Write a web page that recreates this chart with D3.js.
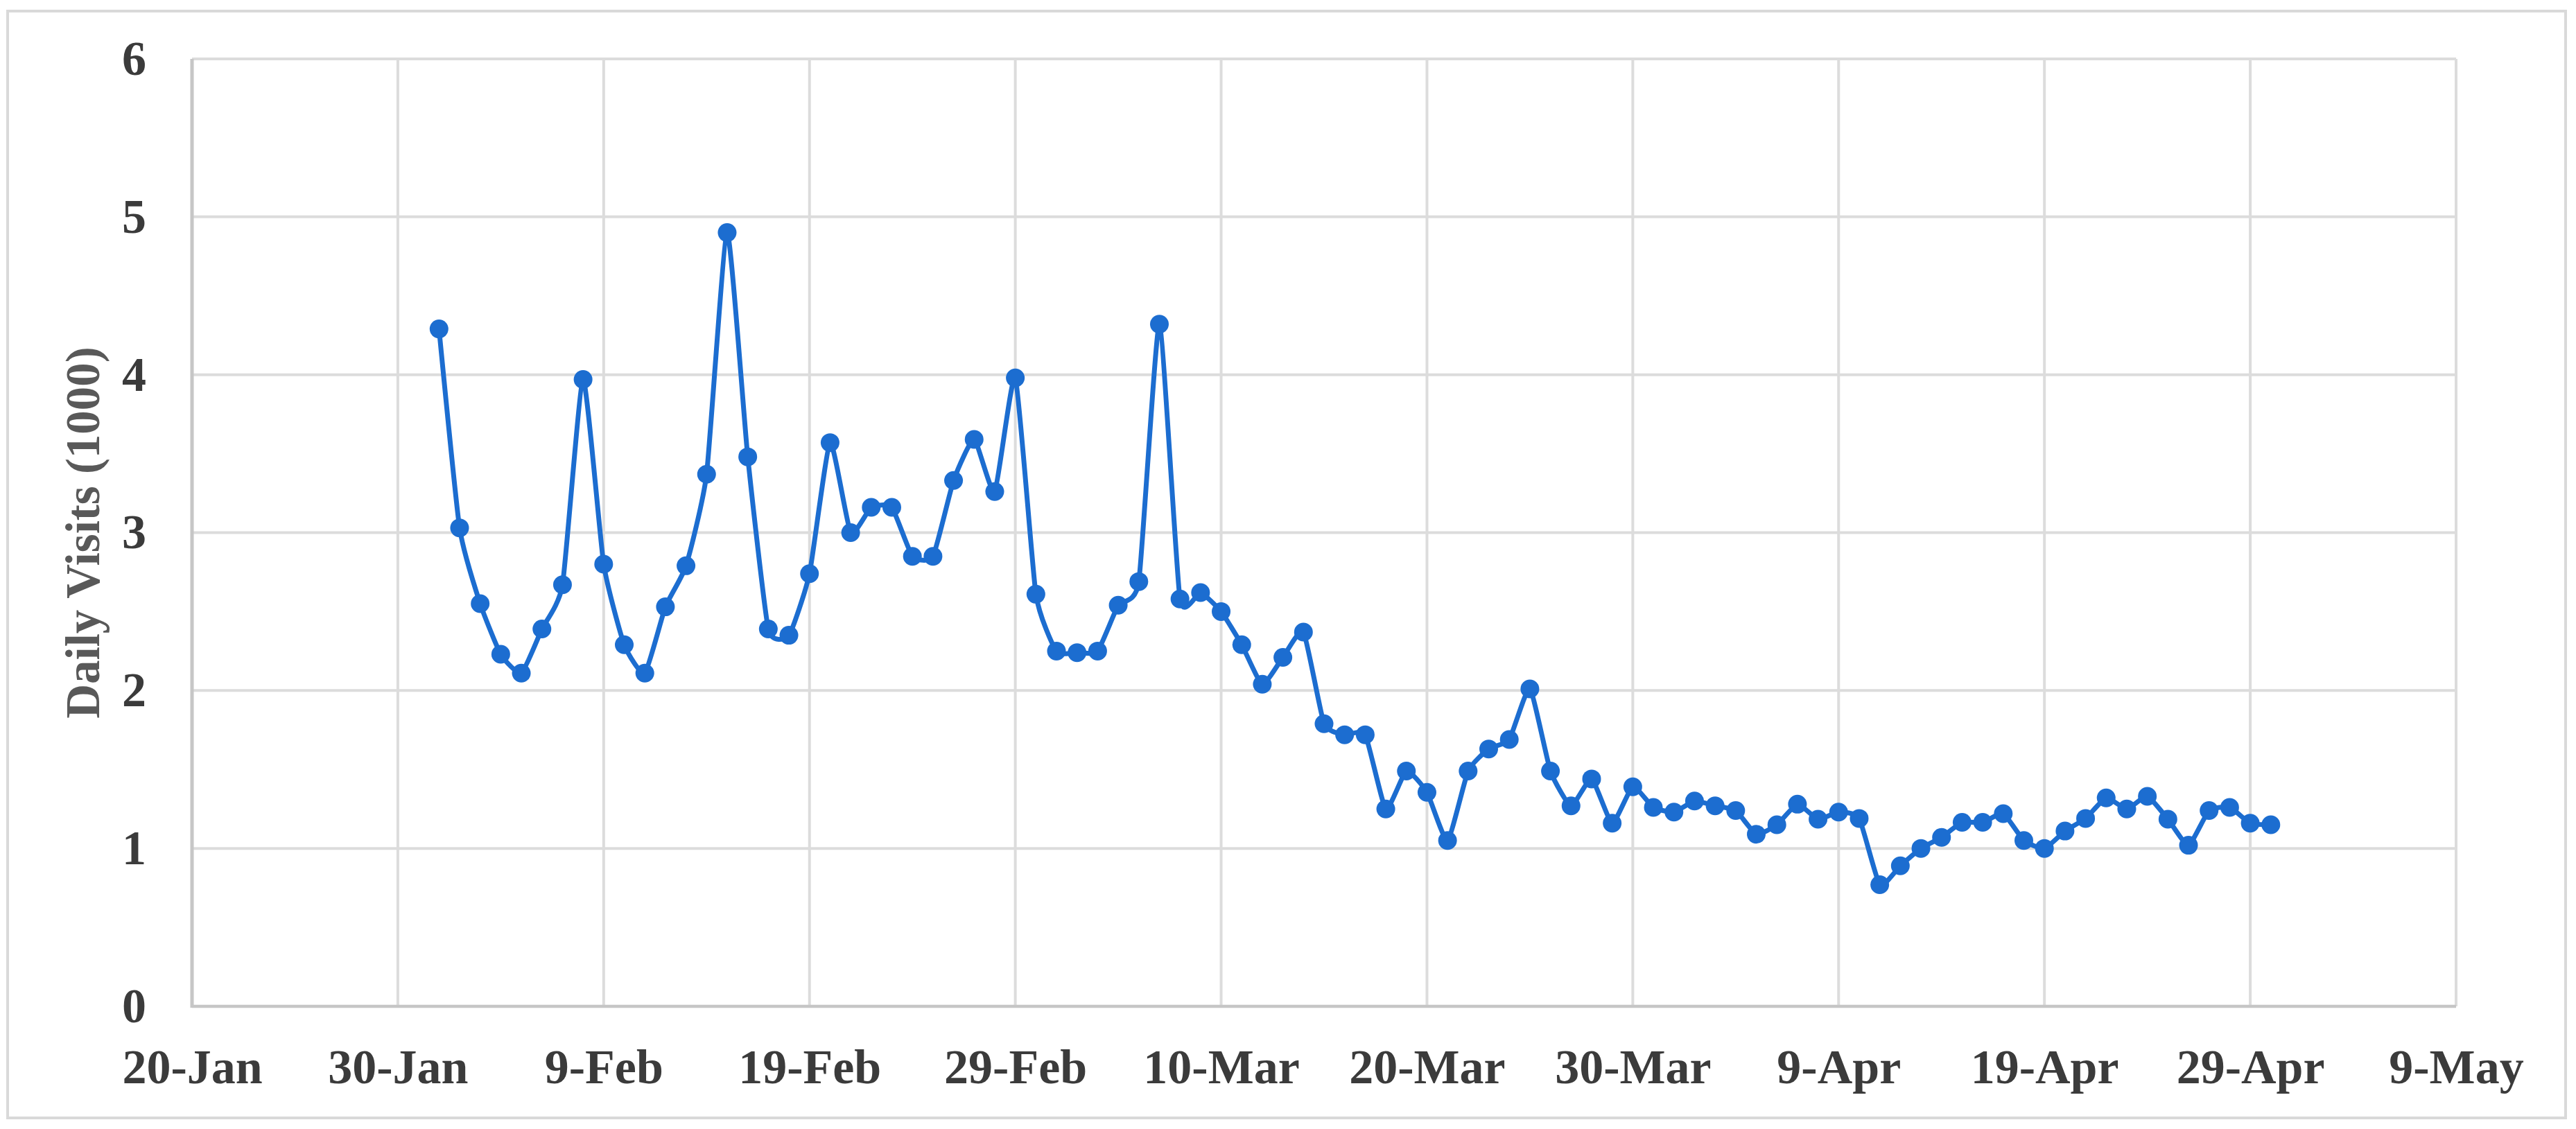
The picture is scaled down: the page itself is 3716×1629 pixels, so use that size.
<!DOCTYPE html>
<html>
<head>
<meta charset="utf-8">
<script src="https://cdn.jsdelivr.net/npm/d3@7"></script>
<style>
  html, body { margin: 0; padding: 0; background: #fff; }
  svg { display: block; }
</style>
</head>
<body>
<div id="chart"></div>
<script>
(function() {"use strict";

    // daily visits (thousands), one value per day starting 1-Feb-2020
    var startDay = "2020-02-01";
    var visits = [
        4.29, 3.03, 2.55, 2.23, 2.11, 2.39, 2.67, 3.97, 2.80, 2.29,   // 1-10 Feb
        2.11, 2.53, 2.79, 3.37, 4.90, 3.48, 2.39, 2.35, 2.74, 3.57,   // 11-20 Feb
        3.00, 3.16, 3.16, 2.85, 2.85, 3.33, 3.59, 3.26, 3.98,         // 21-29 Feb
        2.61, 2.25, 2.24, 2.25, 2.54, 2.69, 4.32, 2.58, 2.62, 2.50,   // 1-10 Mar
        2.29, 2.04, 2.21, 2.37, 1.79, 1.72, 1.72, 1.25, 1.49, 1.355,  // 11-20 Mar
        1.05, 1.49, 1.63, 1.69, 2.01, 1.49, 1.27, 1.44, 1.16, 1.39,   // 21-30 Mar
        1.26,                                                         // 31 Mar
        1.23, 1.30, 1.27, 1.24, 1.09, 1.15, 1.28, 1.185, 1.23, 1.19,  // 1-10 Apr
        0.77, 0.89, 1.00, 1.07, 1.165, 1.165, 1.22, 1.05, 1.00, 1.11, // 11-20 Apr
        1.19, 1.32, 1.25, 1.33, 1.185, 1.02, 1.24, 1.26, 1.16, 1.15   // 21-30 Apr
    ];

    // x axis ticks
    var tickDays = ["2020-01-20", "2020-01-30", "2020-02-09", "2020-02-19", "2020-02-29",
        "2020-03-10", "2020-03-20", "2020-03-30", "2020-04-09", "2020-04-19",
        "2020-04-29", "2020-05-09"];
    var tickLabels = ["20-Jan", "30-Jan", "9-Feb", "19-Feb", "29-Feb", "10-Mar",
        "20-Mar", "30-Mar", "9-Apr", "19-Apr", "29-Apr", "9-May"];

    // y axis ticks
    var yTicks = [0, 1, 2, 3, 4, 5, 6];
    var yTitle = "Daily Visits (1000)";

    var W = 3716, H = 1629,
        margin = {top: 85, right: 173, bottom: 177, left: 277},
        plotW = W - margin.left - margin.right,
        plotH = H - margin.top - margin.bottom;

    var parseDay = d3.utcParse("%Y-%m-%d");
    var t0 = parseDay(startDay);
    var points = visits.map(function(v, i) {
        return {date: d3.utcDay.offset(t0, i), value: v};
    });
    var tickDates = tickDays.map(parseDay);

    var svg = d3.select("#chart").append("svg")
        .attr("width", W)
        .attr("height", H);

    svg.append("rect")
        .attr("width", W).attr("height", H)
        .attr("fill", "#fff");

    // outer frame
    svg.append("rect")
        .attr("x", 11).attr("y", 16)
        .attr("width", 3690).attr("height", 1597)
        .attr("fill", "#fff")
        .attr("stroke", "#d9d9d9")
        .attr("stroke-width", 4);

    var g = svg.append("g")
        .attr("transform", "translate(" + margin.left + "," + margin.top + ")");

    var x = d3.scaleUtc()
        .domain([tickDates[0], tickDates[tickDates.length - 1]])
        .range([0, plotW]);
    var y = d3.scaleLinear()
        .domain([0, 6])
        .range([plotH, 0]);

    // gridlines
    g.append("g")
        .selectAll("line.h").data(yTicks.slice(1)).enter()
        .append("line")
        .attr("x1", 0).attr("x2", plotW)
        .attr("y1", function(d) { return y(d); })
        .attr("y2", function(d) { return y(d); })
        .attr("stroke", "#dcdcdc")
        .attr("stroke-width", 4);
    g.append("g")
        .selectAll("line.v").data(tickDates.slice(1)).enter()
        .append("line")
        .attr("y1", 0).attr("y2", plotH)
        .attr("x1", function(d) { return x(d); })
        .attr("x2", function(d) { return x(d); })
        .attr("stroke", "#dcdcdc")
        .attr("stroke-width", 4);

    // axis lines
    g.append("line")
        .attr("x1", 0).attr("x2", 0).attr("y1", 0).attr("y2", plotH + 2)
        .attr("stroke", "#c6c6c6").attr("stroke-width", 5);
    g.append("line")
        .attr("x1", 0).attr("x2", plotW).attr("y1", plotH).attr("y2", plotH)
        .attr("stroke", "#c6c6c6").attr("stroke-width", 4.5);

    var font = "'Liberation Serif', 'Times New Roman', serif";

    // x axis labels
    var xAxis = g.append("g")
        .attr("transform", "translate(0," + plotH + ")")
        .call(d3.axisBottom(x)
            .tickValues(tickDates)
            .tickSize(0)
            .tickFormat(function(d, i) { return tickLabels[i]; }));
    xAxis.select(".domain").remove();
    xAxis.selectAll("text")
        .attr("y", 111).attr("dy", null)
        .attr("fill", "#3b3b3b")
        .style("font-family", font)
        .style("font-weight", "bold")
        .style("font-size", "70px");

    // y axis labels
    var yAxis = g.append("g")
        .call(d3.axisLeft(y)
            .tickValues(yTicks)
            .tickSize(0)
            .tickPadding(66)
            .tickFormat(d3.format("d")));
    yAxis.select(".domain").remove();
    yAxis.selectAll("text")
        .attr("fill", "#3b3b3b")
        .style("font-family", font)
        .style("font-weight", "bold")
        .style("font-size", "70px");

    // y axis title
    svg.append("text")
        .attr("transform", "translate(143," + (margin.top + plotH / 2) + ") rotate(-90)")
        .attr("text-anchor", "middle")
        .attr("fill", "#595959")
        .style("font-family", font)
        .style("font-weight", "bold")
        .style("font-size", "69px")
        .text(yTitle);

    // series
    var color = "#1c6dd0";
    var line = d3.line()
        .x(function(d) { return x(d.date); })
        .y(function(d) { return y(d.value); })
        .curve(d3.curveCardinal.tension(0.5));

    g.append("path")
        .datum(points)
        .attr("d", line)
        .attr("fill", "none")
        .attr("stroke", color)
        .attr("stroke-width", 7)
        .attr("stroke-linejoin", "round");

    g.selectAll("circle").data(points).enter()
        .append("circle")
        .attr("cx", function(d) { return x(d.date); })
        .attr("cy", function(d) { return y(d.value); })
        .attr("r", 13.5)
        .attr("fill", color);

})();
</script>
</body>
</html>
